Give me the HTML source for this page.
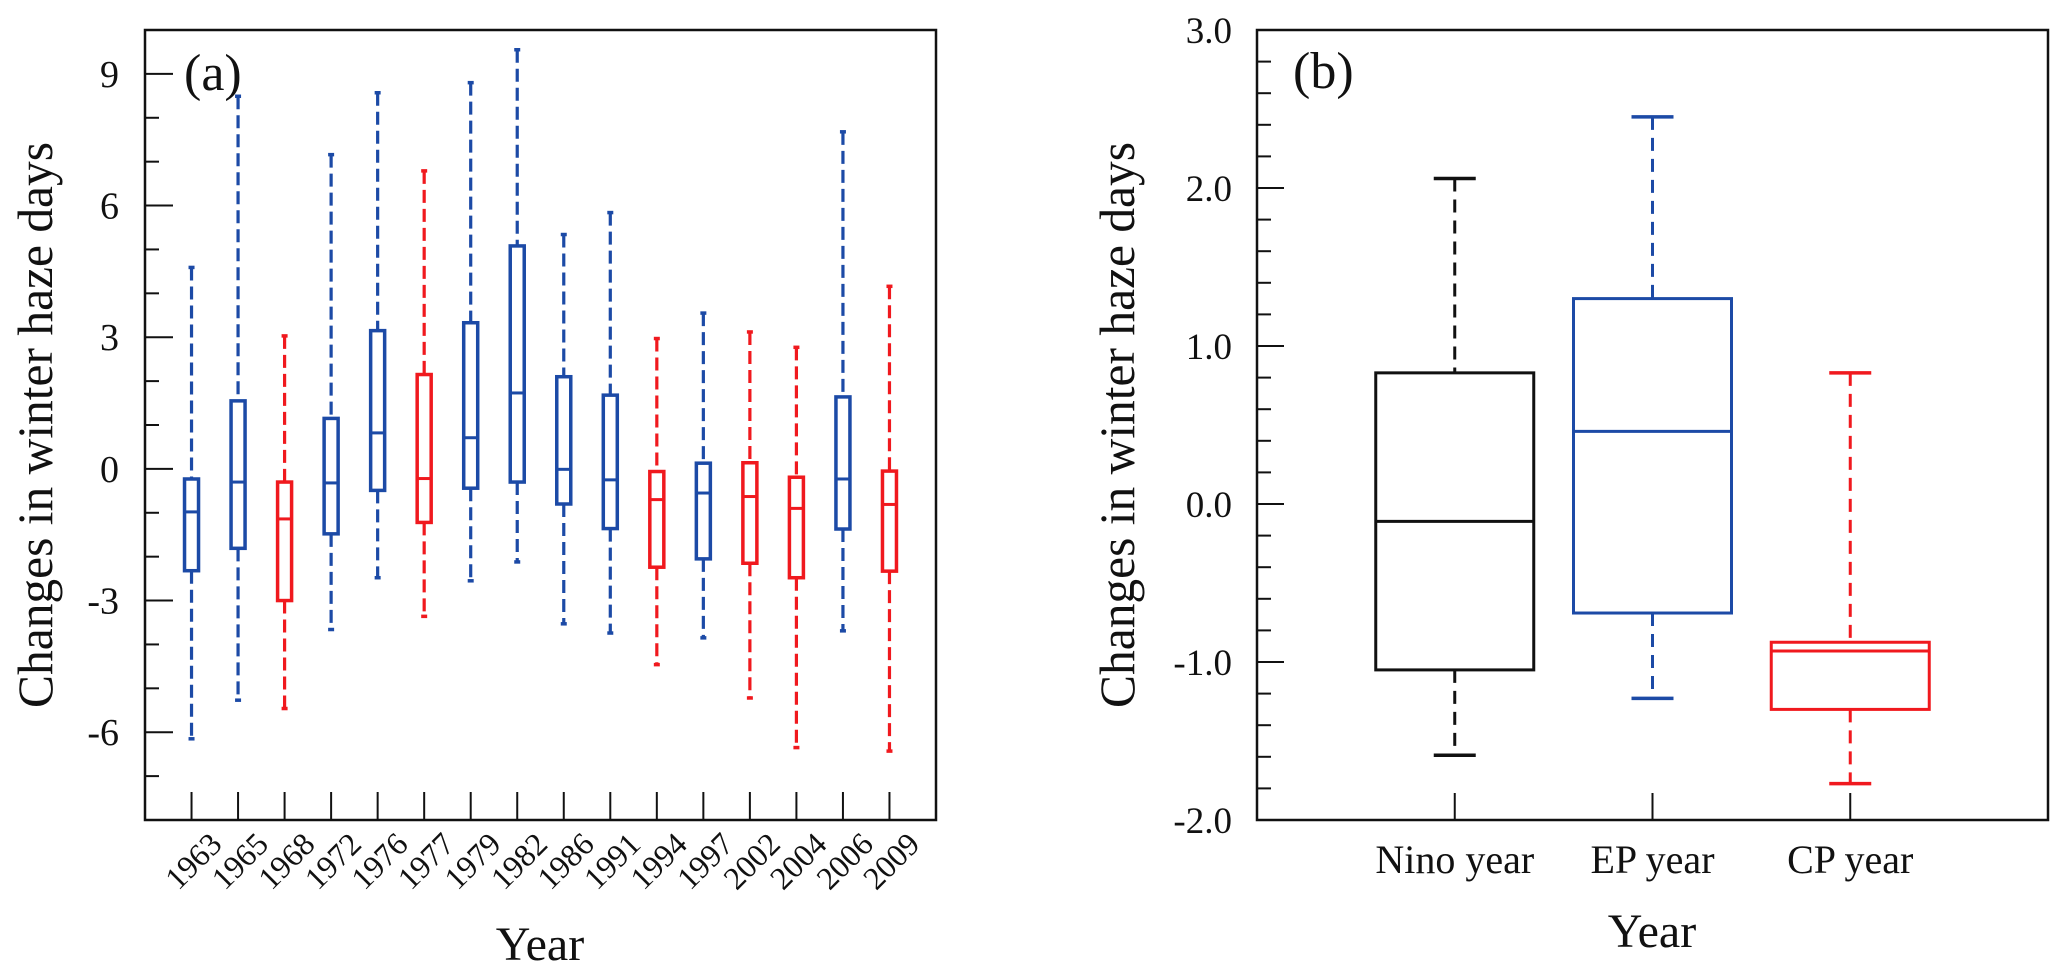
<!DOCTYPE html>
<html><head><meta charset="utf-8"><style>
html,body{margin:0;padding:0;background:#fff;}
svg{display:block;font-family:"Liberation Serif",serif;}
</style></head><body>
<svg id="chart" width="2067" height="980" viewBox="0 0 2067 980" xmlns="http://www.w3.org/2000/svg"></svg>
<script>
// Panel (a) data
const yearsA = ["1963","1965","1968","1972","1976","1977","1979","1982","1986","1991","1994","1997","2002","2004","2006","2009"];
const typeA = ["EP","EP","CP","EP","EP","CP","EP","EP","EP","EP","CP","EP","CP","CP","EP","CP"];
const maxA = [4.59,8.49,3.03,7.16,8.57,6.79,8.8,9.55,5.34,5.84,2.97,3.55,3.12,2.77,7.68,4.16];
const q3A = [-0.23,1.55,-0.3,1.15,3.15,2.15,3.33,5.08,2.1,1.68,-0.06,0.13,0.14,-0.19,1.64,-0.05];
const medA = [-0.98,-0.3,-1.14,-0.32,0.82,-0.22,0.71,1.73,-0.01,-0.25,-0.7,-0.55,-0.63,-0.9,-0.23,-0.81];
const q1A = [-2.32,-1.81,-3.0,-1.48,-0.49,-1.22,-0.44,-0.3,-0.8,-1.36,-2.24,-2.05,-2.15,-2.48,-1.37,-2.33];
const minA = [-6.15,-5.27,-5.46,-3.66,-2.48,-3.36,-2.55,-2.12,-3.53,-3.74,-4.46,-3.85,-5.22,-6.35,-3.69,-6.43];
const yTicksA = [-6,-3,0,3,6,9];
// Panel (b) data
const catsB = ["Nino year","EP year","CP year"];
const colorKeyB = ["NINO","EP","CP"];
const maxB = [2.06,2.45,0.83];
const q3B = [0.83,1.30,-0.875];
const medB = [-0.11,0.46,-0.93];
const q1B = [-1.05,-0.69,-1.30];
const minB = [-1.59,-1.23,-1.77];
const yTicksB = ["-2.0","-1.0","0.0","1.0","2.0","3.0"];

const COL = {EP:"#1c4aa6", CP:"#f0191e", NINO:"#111"};
const svg = document.getElementById('chart');
const NS = "http://www.w3.org/2000/svg";
function mk(tag, attrs, parent){const e=document.createElementNS(NS,tag);for(const k in attrs)e.setAttribute(k,attrs[k]);(parent||svg).appendChild(e);return e;}

// ---------- Panel (a) ----------
const A = {l:145,r:936,t:30,b:820,ymin:-8,ymax:10};
const yA = v => A.b - (v - A.ymin)/(A.ymax - A.ymin)*(A.b - A.t);
const stepA = (A.r - A.l)/(yearsA.length + 1);
const xA = i => A.l + stepA*(i+1);
const gA = mk('g',{});


const fa = mk('rect',{x:A.l,y:A.t,width:A.r-A.l,height:A.b-A.t,fill:'none',stroke:'#111','stroke-width':2.5},gA);


for(let v=A.ymin+1; v<A.ymax; v++){
  const major = (v%3===0);
  const t = mk('line',{x1:A.l,x2:A.l+(major?28:14),y1:yA(v),y2:yA(v),stroke:'#111','stroke-width':2},gA);
  
  
}
yTicksA.forEach(v=>{
  const t = mk('text',{x:A.l-26,y:yA(v)+13,'text-anchor':'end','font-size':38,fill:'#111'},gA);
  t.textContent = String(v);
  
  
});
yearsA.forEach((yr,i)=>{
  const x = xA(i);
  const tk = mk('line',{x1:x,x2:x,y1:A.b,y2:A.b-28,stroke:'#111','stroke-width':2},gA);
  
  
  const lb = mk('text',{x:x+32,y:846,'text-anchor':'end','font-size':32,fill:'#111',transform:`rotate(-45 ${x+32} 846)`},gA);
  lb.textContent = yr;
  
  
  const c = COL[typeA[i]];
  const g = mk('g',{},gA);
  
  
  mk('line',{x1:x,x2:x,y1:yA(maxA[i]),y2:yA(q3A[i]),stroke:c,'stroke-width':3.2,'stroke-dasharray':'13 6'},g);
  mk('line',{x1:x,x2:x,y1:yA(q1A[i]),y2:yA(minA[i]),stroke:c,'stroke-width':3.2,'stroke-dasharray':'13 6'},g);
  mk('line',{x1:x-3,x2:x+3,y1:yA(maxA[i]),y2:yA(maxA[i]),stroke:c,'stroke-width':3.5},g);
  mk('line',{x1:x-3,x2:x+3,y1:yA(minA[i]),y2:yA(minA[i]),stroke:c,'stroke-width':3.5},g);
  mk('rect',{x:x-7,y:yA(q3A[i]),width:14,height:yA(q1A[i])-yA(q3A[i]),fill:'#fff',stroke:c,'stroke-width':3.5},g);
  mk('line',{x1:x-7,x2:x+7,y1:yA(medA[i]),y2:yA(medA[i]),stroke:c,'stroke-width':3},g);
});
const la = mk('text',{x:184,y:90,'font-size':52,fill:'#111'},gA); la.textContent='(a)';
 
const yla = mk('text',{x:0,y:0,'font-size':50,fill:'#111','text-anchor':'middle',transform:'translate(52 425) rotate(-90)',textLength:566,lengthAdjust:'spacingAndGlyphs'},gA);
yla.textContent='Changes in winter haze days';
 
const xla = mk('text',{x:540,y:960,'font-size':48,fill:'#111','text-anchor':'middle'},gA);
xla.textContent='Year';
 

// ---------- Panel (b) ----------
const B = {l:1257,r:2048,t:30,b:820,ymin:-2,ymax:3};
const yB = v => B.b - (v - B.ymin)/(B.ymax - B.ymin)*(B.b - B.t);
const stepB = (B.r - B.l)/(catsB.length + 1);
const xB = i => B.l + stepB*(i+1);
const gB = mk('g',{});


const fb = mk('rect',{x:B.l,y:B.t,width:B.r-B.l,height:B.b-B.t,fill:'none',stroke:'#111','stroke-width':2.5},gB);


for(let k=1;k<25;k++){
  const v = B.ymin + k*0.2;
  const major = (k%5===0);
  const t = mk('line',{x1:B.l,x2:B.l+(major?27:14),y1:yB(v),y2:yB(v),stroke:'#111','stroke-width':2},gB);
  
  
}
yTicksB.forEach(s=>{
  const t = mk('text',{x:B.l-25,y:yB(parseFloat(s))+13,'text-anchor':'end','font-size':37,fill:'#111'},gB);
  t.textContent = s;
  
  
});
catsB.forEach((cat,i)=>{
  const x = xB(i);
  const tk = mk('line',{x1:x,x2:x,y1:B.b,y2:B.b-27,stroke:'#111','stroke-width':2},gB);
  
  
  const lb = mk('text',{x:x,y:873,'text-anchor':'middle','font-size':40,fill:'#111'},gB);
  lb.textContent = cat;
  
  
  const c = COL[colorKeyB[i]];
  const g = mk('g',{},gB);
  
  
  mk('line',{x1:x,x2:x,y1:yB(maxB[i]),y2:yB(q3B[i]),stroke:c,'stroke-width':3,'stroke-dasharray':'13 8'},g);
  mk('line',{x1:x,x2:x,y1:yB(q1B[i]),y2:yB(minB[i]),stroke:c,'stroke-width':3,'stroke-dasharray':'13 8'},g);
  mk('line',{x1:x-21,x2:x+21,y1:yB(maxB[i]),y2:yB(maxB[i]),stroke:c,'stroke-width':3.5},g);
  mk('line',{x1:x-21,x2:x+21,y1:yB(minB[i]),y2:yB(minB[i]),stroke:c,'stroke-width':3.5},g);
  mk('rect',{x:x-79,y:yB(q3B[i]),width:158,height:yB(q1B[i])-yB(q3B[i]),fill:'#fff',stroke:c,'stroke-width':3},g);
  mk('line',{x1:x-79,x2:x+79,y1:yB(medB[i]),y2:yB(medB[i]),stroke:c,'stroke-width':3},g);
});
const lbb = mk('text',{x:1293,y:88,'font-size':52,fill:'#111'},gB); lbb.textContent='(b)';
 
const ylb = mk('text',{x:0,y:0,'font-size':50,fill:'#111','text-anchor':'middle',transform:'translate(1134 425) rotate(-90)',textLength:566,lengthAdjust:'spacingAndGlyphs'},gB);
ylb.textContent='Changes in winter haze days';
 
const xlb = mk('text',{x:1652,y:947,'font-size':48,fill:'#111','text-anchor':'middle'},gB);
xlb.textContent='Year';
 
</script>
</body></html>
